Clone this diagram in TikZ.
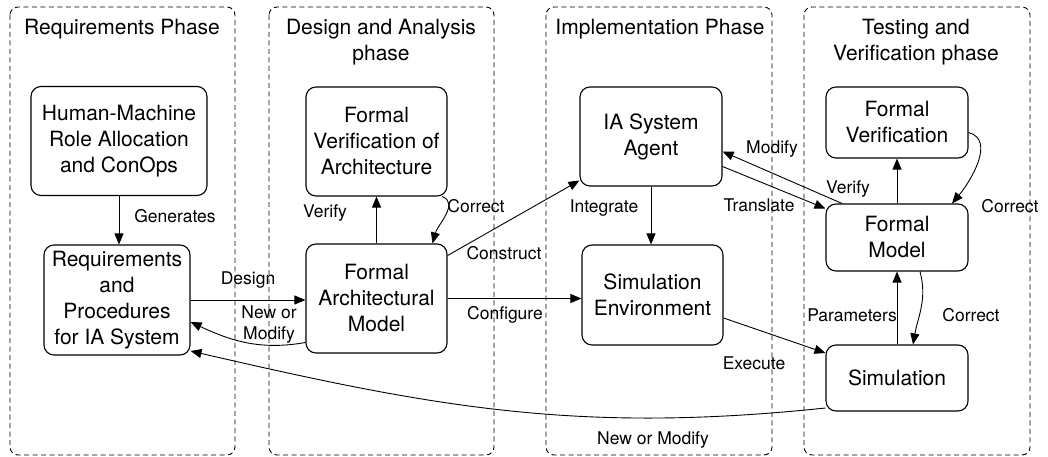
\documentclass[tikz,border=0pt]{standalone}
\usepackage{fontspec}
\setmainfont{TeX Gyre Heros}
\usetikzlibrary{arrows.meta,positioning,calc}

\begin{document}
\begin{tikzpicture}[x=1pt,y=1pt,font=\fontsize{21}{26}\selectfont,
  stage/.style={draw,rounded corners=10pt,line width=1.1pt,align=center,inner sep=0pt},
  lbl/.style={font=\fontsize{17.5}{21}\selectfont,inner sep=0pt},
  arr/.style={line width=0.9pt,-{Triangle[length=11pt,width=9pt]}},
  phase/.style={draw,dashed,dash pattern=on 5pt off 3.5pt,rounded corners=8pt,line width=0.9pt}]
\useasboundingbox (0,0) rectangle (1048,-457);
% phase frames
\foreach \xa/\xb in {10/235,269/494,546/772,804/1030}{\draw[phase] (\xa,-7) rectangle (\xb,-455);}
\node[align=center,anchor=north] (reqph) at (122,-16) {Requirements Phase};
\node[align=center,anchor=north] (desph) at (381,-16) {Design and Analysis\\phase};
\node[align=center,anchor=north] (impph) at (660,-16) {Implementation Phase};
\node[align=center,anchor=north] (tstph) at (916,-16) {Testing and\\Verification phase};
% blocks
\node[stage,minimum width=176pt,minimum height=109pt] (hm) at (119,-141) {Human-Machine\\Role Allocation\\and ConOps};
\node[stage,minimum width=146pt,minimum height=110pt] (req) at (117,-300) {Requirements\\and\\Procedures\\for IA System};
\node[stage,minimum width=141pt,minimum height=109pt] (fva) at (376.5,-141.5) {Formal\\Verification of\\Architecture};
\node[stage,minimum width=141pt,minimum height=109pt] (fam) at (376.5,-298.5) {Formal\\Architectural\\Model};
\node[stage,minimum width=142pt,minimum height=99pt] (agent) at (651,-136.5) {IA System\\Agent};
\node[stage,minimum width=141pt,minimum height=100pt] (simenv) at (652.5,-295) {Simulation\\Environment};
\node[stage,minimum width=142pt,minimum height=71pt] (fv) at (897,-122.5) {Formal\\Verification};
\node[stage,minimum width=142pt,minimum height=67pt] (fm) at (897,-237.5) {Formal\\Model};
\node[stage,minimum width=142pt,minimum height=66pt] (sim) at (897,-378) {Simulation};
% connectors
\draw[arr] (hm.south) -- (hm.south |- req.north);
\draw[arr] (req.east) -- (req.east -| fam.west);
\draw[arr] ([yshift=-44pt]fam.west) to[out=190,in=-25] ([yshift=-22pt]req.east);
\draw[arr] (fam.north) -- (fva.south);
\draw[arr] (fva.-40) to[out=-20,in=75] ([xshift=56pt]fam.north);
\draw[arr] ([yshift=43pt]fam.east) -- ([yshift=-44pt]agent.west);
\draw[arr] (fam.east) -- (fam.east -| simenv.west);
\draw[arr] (agent.south) -- (agent.south |- simenv.north);
\draw[arr] ([yshift=-30pt]agent.east) -- ([yshift=29pt]fm.west);
\draw[arr] ([xshift=-55pt]fm.north) -- ([yshift=-15pt]agent.east);
\draw[arr] (fm.north) -- (fv.south);
\draw[arr] ([yshift=-10pt]fv.east) to[out=-15,in=50] ([xshift=55pt]fm.north);
\draw[arr] ([yshift=-23pt]simenv.east) -- ([yshift=25pt]sim.west);
\draw[arr] (sim.north) -- (fm.south);
\draw[arr] ([xshift=23pt]fm.south) to[out=-75,in=80] ([xshift=16pt]sim.north);
\draw[arr] ([yshift=-30pt]sim.west) to[out=186,in=-13] ([yshift=-51pt]req.east);
% labels
\node[lbl] (lgen) at (175,-216) {Generates};
\node[lbl] (ldes) at (248,-280) {Design};
\node[lbl,align=center] (lnew) at (269,-325) {New or\\Modify};
\node[lbl] (lver) at (325,-213) {Verify};
\node[lbl] (lcor) at (476,-206) {Correct};
\node[lbl] (lcon) at (504,-253) {Construct};
\node[lbl] (lcfg) at (505,-315) {Configure};
\node[lbl] (lint) at (604,-208) {Integrate};
\node[lbl] (ltra) at (759,-205) {Translate};
\node[lbl] (lmod) at (772,-149) {Modify};
\node[lbl] (lvert) at (848,-189) {Verify};
\node[lbl] (lcort) at (1010,-206) {Correct};
\node[lbl] (lexe) at (754,-363) {Execute};
\node[lbl] (lpar) at (852,-315) {Parameters};
\node[lbl] (lcors) at (971,-315) {Correct};
\node[lbl] (lnewb) at (653,-440) {New or Modify};
\end{tikzpicture}
\end{document}
